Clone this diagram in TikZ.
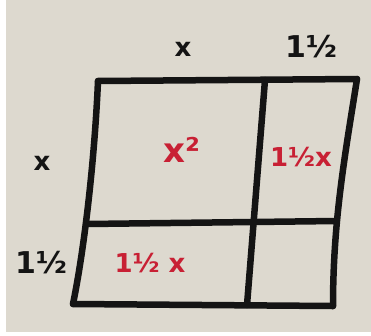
\documentclass[tikz,border=0pt]{standalone}
\usepackage{fontspec}
\setmainfont{DejaVu Sans}
\definecolor{paper}{RGB}{221,217,207}
\definecolor{redink}{RGB}{200,32,52}
\definecolor{ink}{RGB}{20,20,20}
\begin{document}
\begin{tikzpicture}[x=1pt,y=-1pt,
  edge/.style={line width=6.5pt, line cap=round, line join=round, draw=ink},
  lbl/.style={font=\fontsize{26}{28}\selectfont\bfseries, text=ink, inner sep=0pt},
  cell/.style={font=\fontsize{26}{28}\selectfont\bfseries, text=redink, inner sep=0pt}]
\useasboundingbox (0,0) rectangle (371,335);
\fill[paper] (0,0) rectangle (371,335);
\fill[white] (0,0) rectangle (6,335);
\fill[white] (0,332) rectangle (371,335);
% corners
\coordinate (tl) at (98,81);
\coordinate (tr) at (357,79);
\coordinate (br) at (333,306);
\coordinate (bl) at (73,304);
\coordinate (mt) at (265,80);
\coordinate (mb) at (247,305);
\coordinate (ml) at (87,224);
\coordinate (mr) at (336,221);
% outer frame
\draw[edge] (tl) -- (tr);
\draw[edge] (tr) .. controls (345,155) and (333,220) .. (br);
\draw[edge] (bl) -- (br);
\draw[edge] (tl) .. controls (95,150) and (86,240) .. (bl);
% inner lines
\draw[edge] (mt) -- (mb);
\draw[edge] (ml) -- (mr);
% side labels
\node[lbl] (topx) at (183,49) {x};
\node[lbl, font=\fontsize{30}{32}\selectfont\bfseries] (tophalf) at (311,47) {1½};
\node[lbl] (leftx) at (42,163) {x};
\node[lbl, font=\fontsize{30}{32}\selectfont\bfseries] (lefthalf) at (41,263) {1½};
% cell labels
\node[cell, font=\fontsize{34}{36}\selectfont\bfseries] (xsq) at (182,150) {x²};
\node[cell] (rx) at (301,157) {1½x};
\node[cell] (bx) at (150,263) {1½ x};
\end{tikzpicture}
\end{document}
